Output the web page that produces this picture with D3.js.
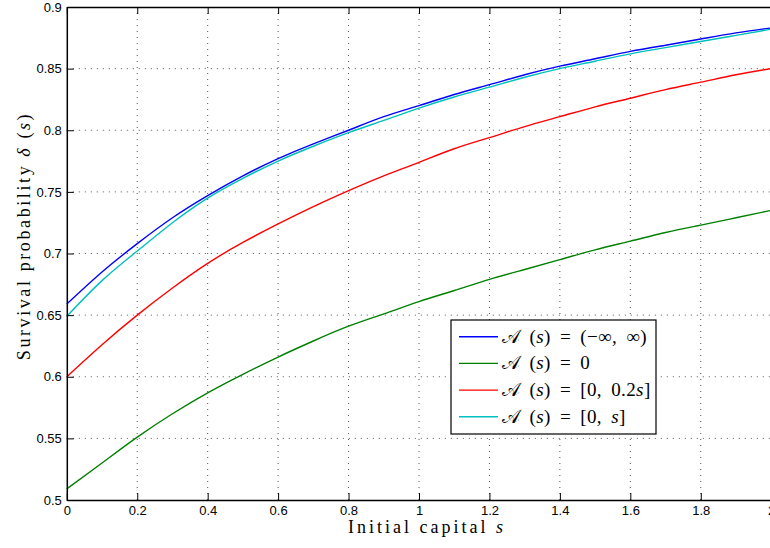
<!DOCTYPE html>
<html>
<head>
<meta charset="utf-8">
<script src="https://cdn.jsdelivr.net/npm/d3@7"></script>
<style>
  body { margin: 0; background: #fff; }
  svg { display: block; }
</style>
</head>
<body>
<div id="chart"></div>
<script>
// initial capital s
var capital = [0, 0.1, 0.2, 0.3, 0.4, 0.5, 0.6, 0.7, 0.8, 0.9, 1.0,
               1.1, 1.2, 1.3, 1.4, 1.5, 1.6, 1.7, 1.8, 1.9, 2.0];

// survival probability for each admissible set
var unrestricted = [0.659, 0.685, 0.708, 0.729, 0.747, 0.763, 0.777, 0.789, 0.800, 0.811, 0.820,
                    0.829, 0.837, 0.845, 0.852, 0.858, 0.864, 0.869, 0.874, 0.879, 0.883];
var zeroSet      = [0.509, 0.530, 0.551, 0.570, 0.587, 0.602, 0.616, 0.629, 0.641, 0.651, 0.661,
                    0.670, 0.679, 0.687, 0.695, 0.703, 0.710, 0.717, 0.723, 0.729, 0.735];
var fifthSet     = [0.600, 0.626, 0.650, 0.672, 0.692, 0.709, 0.724, 0.738, 0.751, 0.763, 0.774,
                    0.785, 0.794, 0.803, 0.811, 0.819, 0.826, 0.833, 0.839, 0.845, 0.850];
var fullSet      = [0.649, 0.678, 0.702, 0.725, 0.745, 0.761, 0.775, 0.787, 0.798, 0.808, 0.818,
                    0.827, 0.835, 0.843, 0.850, 0.856, 0.862, 0.867, 0.872, 0.877, 0.882];

// legend entries: [prefix, italic s, suffix]
var seriesNames  = [["\u{1D49C} (", "s", ") = (\u2212\u221E, \u221E)"],
                    ["\u{1D49C} (", "s", ") = 0"],
                    ["\u{1D49C} (", "s", ") = [0, 0.2", "s", "]"],
                    ["\u{1D49C} (", "s", ") = [0, ", "s", "]"]];
var seriesValues = [unrestricted, zeroSet, fifthSet, fullSet];
var seriesColors = ["#0000ff", "#008000", "#ff0000", "#00bfbf"];

var xTicks = [0, 0.2, 0.4, 0.6, 0.8, 1, 1.2, 1.4, 1.6, 1.8, 2];
var yTicks = [0.5, 0.55, 0.6, 0.65, 0.7, 0.75, 0.8, 0.85, 0.9];

var width = 770, height = 548;

var svg = d3.select("#chart").append("svg")
    .attr("width", width)
    .attr("height", height);

var x = d3.scaleLinear().domain([0, 2]).range([66.8, 771.2]);
var y = d3.scaleLinear().domain([0.5, 0.9]).range([500, 7]);

// dotted grid
var grid = svg.append("g");
grid.selectAll("line.gx")
    .data(xTicks.slice(1, -1))
    .enter().append("line")
    .attr("x1", d => x(d)).attr("x2", d => x(d))
    .attr("y1", y(0.5)).attr("y2", y(0.9))
    .style("stroke", "#555").style("stroke-dasharray", "1,5");
grid.selectAll("line.gy")
    .data(yTicks.slice(1, -1))
    .enter().append("line")
    .attr("x1", x(0)).attr("x2", x(2))
    .attr("y1", d => y(d)).attr("y2", d => y(d))
    .style("stroke", "#555").style("stroke-dasharray", "1,5");

// series
var line = d3.line()
    .x((d, i) => x(capital[i]))
    .y(d => y(d))
    .curve(d3.curveNatural);

svg.selectAll("path.series")
    .data(seriesValues)
    .enter().append("path")
    .attr("class", "series")
    .attr("d", d => line(d))
    .style("fill", "none")
    .style("stroke", (d, i) => seriesColors[i])
    .style("stroke-width", 1.4);

// axes with inward ticks
var tickFont = "'Liberation Sans', Arial, sans-serif";

var bottomAxis = svg.append("g")
    .attr("transform", "translate(0," + y(0.5) + ")")
    .call(d3.axisBottom(x).tickValues(xTicks).tickSizeInner(-7).tickSizeOuter(0)
        .tickPadding(6).tickFormat(d3.format("")));
var topAxis = svg.append("g")
    .attr("transform", "translate(0," + y(0.9) + ")")
    .call(d3.axisTop(x).tickValues(xTicks).tickSizeInner(-7).tickSizeOuter(0).tickFormat(""));
var leftAxis = svg.append("g")
    .attr("transform", "translate(" + x(0) + ",0)")
    .call(d3.axisLeft(y).tickValues(yTicks).tickSizeInner(-7).tickSizeOuter(0)
        .tickPadding(5).tickFormat(d3.format("")));

[bottomAxis, topAxis, leftAxis].forEach(function(g) {
    g.select(".domain").style("stroke", "#000").style("stroke-width", 1.5);
    g.selectAll(".tick line").style("stroke", "#000");
    g.selectAll("text").style("font-family", tickFont).style("font-size", "13px").style("fill", "#000");
});

// axis titles
var serif = "'Liberation Serif', 'DejaVu Serif', serif";
svg.append("text")
    .attr("x", 427).attr("y", 533)
    .attr("text-anchor", "middle")
    .style("font-family", serif).style("font-size", "18px").style("letter-spacing", "3px")
    .html("Initial capital <tspan font-style='italic'>s</tspan>");

svg.append("text")
    .attr("transform", "translate(30,236) rotate(-90)")
    .attr("text-anchor", "middle")
    .style("font-family", serif).style("font-size", "18px").style("letter-spacing", "2.6px")
    .html("Survival probability <tspan font-style='italic'>\u03B4</tspan> (<tspan font-style='italic'>s</tspan>)");

// legend
var legend = svg.append("g");
legend.append("rect")
    .attr("x", 451).attr("y", 320)
    .attr("width", 205).attr("height", 114)
    .style("fill", "#fff").style("stroke", "#000").style("stroke-width", 1.2);

var rows = legend.selectAll("g.row")
    .data(seriesNames)
    .enter().append("g")
    .attr("transform", (d, i) => "translate(0," + (336.7 + i * 26.7) + ")");
rows.append("line")
    .attr("x1", 459).attr("x2", 498)
    .style("stroke", (d, i) => seriesColors[i])
    .style("stroke-width", 1.4);
rows.append("text")
    .attr("x", 502).attr("y", 6)
    .style("font-family", serif).style("font-size", "19px")
    .style("word-spacing", "4px").style("letter-spacing", "0.4px")
    .each(function(parts) {
        var t = d3.select(this);
        parts.forEach(function(p, k) {
            t.append("tspan")
                .attr("font-style", k % 2 === 1 ? "italic" : null)
                .text(p);
        });
    });
</script>
</body>
</html>
